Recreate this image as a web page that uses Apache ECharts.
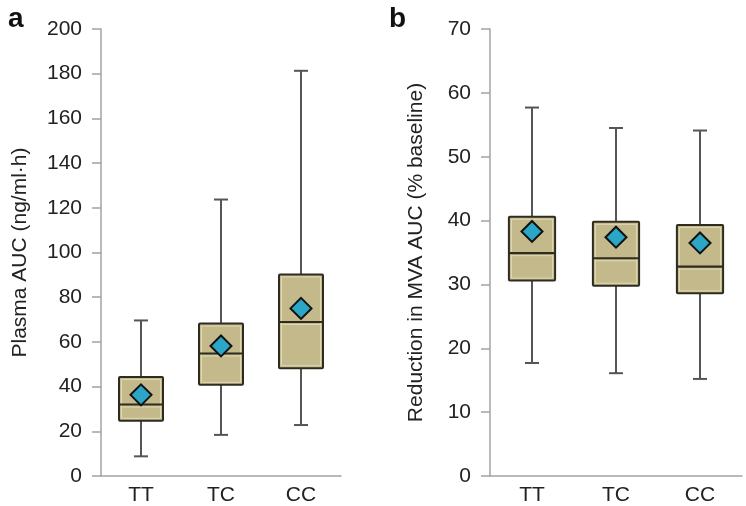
<!DOCTYPE html>
<html>
<head>
<meta charset="utf-8">
<script src="https://cdn.jsdelivr.net/npm/echarts@6/dist/echarts.min.js"></script>
<style>html,body{margin:0;padding:0;background:#fff}#c{width:746px;height:506px}</style>
</head>
<body>
<div id="c"></div>
<script>
var categories = ['TT', 'TC', 'CC'];
// panel a: [min, q1, median, q3, max]
var boxA = [[8.8, 24.7, 32.0, 44.3, 69.6], [18.4, 40.8, 54.8, 68.2, 123.7], [22.8, 48.2, 68.9, 90.2, 181.3]];
var meanA = [36.3, 58.2, 75.0];
// panel b
var boxB = [[17.7, 30.6, 34.9, 40.6, 57.7], [16.1, 29.8, 34.1, 39.8, 54.5], [15.2, 28.6, 32.8, 39.3, 54.1]];
var meanB = [38.3, 37.4, 36.5];
var yTicksA = [0, 20, 40, 60, 80, 100, 120, 140, 160, 180, 200];
var yTicksB = [0, 10, 20, 30, 40, 50, 60, 70];

var FONT = 'Liberation Sans, Arial, Helvetica, sans-serif';
var TXT = '#222';
var AX = '#a3a3a3';

function toData(box) {
  return box.map(function (b, i) { return [i].concat(b); });
}

function renderBox(params, api) {
  var idx = api.value(0);
  var bw = api.size([1, 0])[0] * 0.55;
  var capW = 14;
  var pMin = api.coord([idx, api.value(1)]);
  var pQ1 = api.coord([idx, api.value(2)]);
  var pMed = api.coord([idx, api.value(3)]);
  var pQ3 = api.coord([idx, api.value(4)]);
  var pMax = api.coord([idx, api.value(5)]);
  var x = pQ1[0];
  var wStyle = { stroke: '#555', lineWidth: 2 };
  return {
    type: 'group',
    children: [
      { type: 'line', shape: { x1: x, y1: pMax[1], x2: x, y2: pQ3[1] }, style: wStyle },
      { type: 'line', shape: { x1: x, y1: pQ1[1], x2: x, y2: pMin[1] }, style: wStyle },
      { type: 'line', shape: { x1: x - capW / 2, y1: pMax[1], x2: x + capW / 2, y2: pMax[1] }, style: wStyle },
      { type: 'line', shape: { x1: x - capW / 2, y1: pMin[1], x2: x + capW / 2, y2: pMin[1] }, style: wStyle },
      { type: 'rect', shape: { x: x - bw / 2, y: pQ3[1], width: bw, height: pQ1[1] - pQ3[1], r: 1 },
        style: { fill: '#c3b98b', stroke: '#2e2c20', lineWidth: 2 } },
      { type: 'rect', shape: { x: x - bw / 2 + 2.5, y: pQ3[1] + 2.5, width: bw - 5, height: pQ1[1] - pQ3[1] - 5 },
        style: { fill: 'none', stroke: '#e0d9b4', lineWidth: 1 } },
      { type: 'line', shape: { x1: x - bw / 2 + 2.5, y1: pMed[1] + 2.5, x2: x + bw / 2 - 2.5, y2: pMed[1] + 2.5 },
        style: { stroke: '#e0d9b4', lineWidth: 1 } },
      { type: 'line', shape: { x1: x - bw / 2, y1: pMed[1], x2: x + bw / 2, y2: pMed[1] },
        style: { stroke: '#2e2c20', lineWidth: 2.2 } }
    ]
  };
}

function xAx(gi) {
  return {
    type: 'category', gridIndex: gi, data: categories,
    axisLine: { lineStyle: { color: AX, width: 1.5 } },
    axisTick: { show: false },
    axisLabel: { color: TXT, fontSize: 21, fontFamily: FONT, margin: 9 },
    splitLine: { show: false }
  };
}
function yAx(gi, max, interval, name, gap) {
  return {
    type: 'value', gridIndex: gi, min: 0, max: max, interval: interval,
    name: name, nameLocation: 'middle', nameGap: gap,
    nameTextStyle: { color: TXT, fontSize: 21, fontFamily: FONT },
    axisLine: { show: true, lineStyle: { color: AX, width: 1.5 } },
    axisTick: { show: true, length: 9, lineStyle: { color: AX, width: 1.5 } },
    axisLabel: { color: TXT, fontSize: 21, fontFamily: FONT, margin: 19 },
    splitLine: { show: false }
  };
}

var chart = echarts.init(document.getElementById('c'), null, { renderer: 'canvas' });
chart.setOption({
  animation: false,
  backgroundColor: '#fff',
  title: [
    { text: 'a', left: 3, top: 0, textStyle: { fontSize: 28, fontWeight: 'bold', color: '#111', fontFamily: FONT } },
    { text: 'b', left: 384, top: 0, textStyle: { fontSize: 28, fontWeight: 'bold', color: '#111', fontFamily: FONT } }
  ],
  grid: [
    { left: 101, top: 29, width: 240, height: 448 },
    { left: 490, top: 29, width: 252, height: 448 }
  ],
  xAxis: [xAx(0), xAx(1)],
  yAxis: [
    yAx(0, 200, 20, 'Plasma AUC (ng/ml\u00b7h)', 70),
    yAx(1, 70, 10, 'Reduction in MVA AUC (% baseline)', 63)
  ],
  series: [
    { type: 'custom', xAxisIndex: 0, yAxisIndex: 0, renderItem: renderBox, data: toData(boxA), encode: { x: 0, y: [1, 2, 3, 4, 5] } },
    { type: 'custom', xAxisIndex: 1, yAxisIndex: 1, renderItem: renderBox, data: toData(boxB), encode: { x: 0, y: [1, 2, 3, 4, 5] } },
    { type: 'scatter', xAxisIndex: 0, yAxisIndex: 0, symbol: 'diamond', symbolSize: [21, 21],
      itemStyle: { color: '#2ba6c6', borderColor: '#111', borderWidth: 2, opacity: 1 },
      data: meanA.map(function (v, i) { return [i, v]; }), z: 5 },
    { type: 'scatter', xAxisIndex: 1, yAxisIndex: 1, symbol: 'diamond', symbolSize: [21, 21],
      itemStyle: { color: '#2ba6c6', borderColor: '#111', borderWidth: 2, opacity: 1 },
      data: meanB.map(function (v, i) { return [i, v]; }), z: 5 }
  ]
});
</script>
</body>
</html>
